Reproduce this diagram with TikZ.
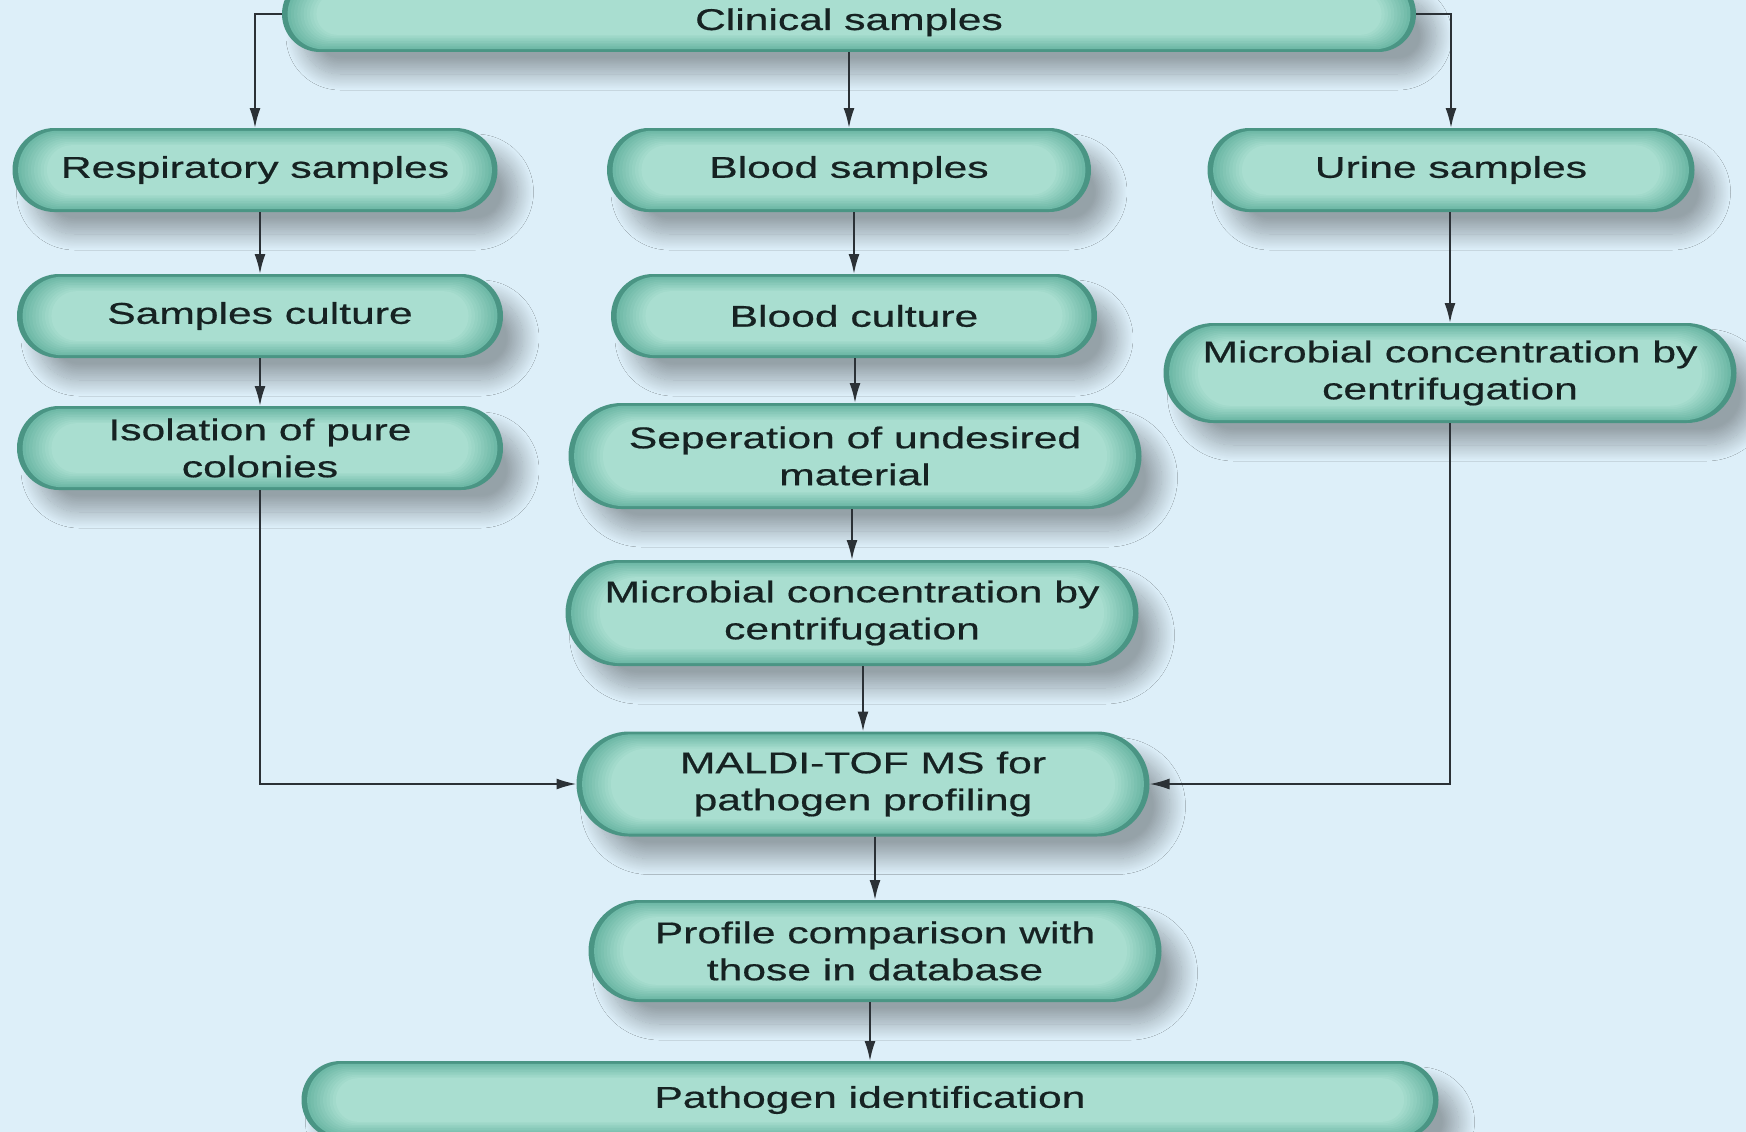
\documentclass[tikz,border=0pt]{standalone}
\usepackage{fontspec}
\newfontfamily\widefont[FakeStretch=1.42,FakeBold=0.6]{Liberation Sans}
\usetikzlibrary{arrows.meta,shapes.misc,shadows.blur,calc,backgrounds}
\definecolor{bgc}{HTML}{DDEFF9}
\definecolor{rimd}{HTML}{4A9584}
\definecolor{rimc}{HTML}{68B5A2}
\definecolor{pin}{HTML}{A9DED0}
\definecolor{txt}{HTML}{162222}
\definecolor{lin}{HTML}{2B3136}
\tikzset{
  pill/.style={rectangle, align=center, inner sep=0pt, outer sep=0pt, text=txt,
    font=\widefont\fontsize{30}{37}\selectfont},
  pillshape/.style={rounded rectangle, inner sep=0pt, outer sep=0pt},
  conn/.style={draw=lin, line width=2pt,
    -{Latex[length=20pt,width=11pt]}}
}
\newcommand\pillbg[1]{%
\begin{scope}[on background layer]
\path let \p1=(#1.south west), \p2=(#1.north east) in
  node[pillshape, fill=rimd, minimum width={\x2-\x1}, minimum height={\y2-\y1},
    blur shadow={shadow xshift=20pt, shadow yshift=-22pt, shadow blur radius=16pt,
      shadow blur steps=24, shadow opacity=32}] at (#1.center) {};
\foreach \i in {1,...,10}{%
  \pgfmathsetmacro\ins{1.2+1.6*\i}%
  \pgfmathtruncatemacro\mix{\i*10}%
  \path let \p1=(#1.south west), \p2=(#1.north east) in
    node[pillshape, fill=pin!\mix!rimc, minimum width={\x2-\x1-2*\ins-2*\ins},
      minimum height={\y2-\y1-2*\ins}] at (#1.center) {};
}
\end{scope}}
\begin{document}
\begin{tikzpicture}[x=1pt,y=-1pt]
\useasboundingbox (0,0) rectangle (1746,1132);
\begin{scope}[on background layer]
\fill[bgc] (0,0) rectangle (1746,1132);
\end{scope}

\node[pill, minimum width=1134pt, minimum height=76pt] (clin) at (849,14) {\raisebox{-16pt}[0pt][0pt]{Clinical samples}};
\node[pill, minimum width=485pt, minimum height=84pt] (resp) at (255,170) {Respiratory samples};
\node[pill, minimum width=484pt, minimum height=84pt] (blood) at (849,170) {Blood samples};
\node[pill, minimum width=487pt, minimum height=84pt] (urine) at (1451,170) {Urine samples};
\node[pill, minimum width=486pt, minimum height=84pt] (scult) at (260,316) {Samples culture};
\node[pill, minimum width=486pt, minimum height=84pt] (bcult) at (854,316) {Blood culture};
\node[pill, minimum width=573pt, minimum height=100pt] (microR) at (1450,373) {Microbial concentration by\\centrifugation};
\node[pill, minimum width=486pt, minimum height=84pt] (isol) at (260,448) {Isolation of pure\\colonies};
\node[pill, minimum width=573pt, minimum height=106pt] (sep) at (855,456) {Seperation of undesired\\material};
\node[pill, minimum width=573pt, minimum height=106pt] (microM) at (852,613) {Microbial concentration by\\centrifugation};
\node[pill, minimum width=573pt, minimum height=105pt] (maldi) at (863,784) {MALDI-TOF MS for\\pathogen profiling};
\node[pill, minimum width=573pt, minimum height=102pt] (prof) at (875,951) {Profile comparison with\\those in database};
\node[pill, minimum width=1137pt, minimum height=78pt] (path) at (870,1100) {Pathogen identification};

\foreach \nm in {clin,resp,blood,urine,scult,bcult,microR,isol,sep,microM,maldi,prof,path}{\pillbg{\nm}}

\draw[conn] (clin.west) -| (resp.north);
\draw[conn] (clin.south -| blood.north) -- (blood.north);
\draw[conn] (clin.east) -| (urine.north);
\draw[conn] (resp.south -| scult.north) -- (scult.north);
\draw[conn] (scult.south -| isol.north) -- (isol.north);
\draw[conn] (isol.south) |- (maldi.west);
\draw[conn] (blood.south -| bcult.north) -- (bcult.north);
\draw[conn] (bcult.south -| sep.north) -- (sep.north);
\draw[conn] (sep.south -| microM.north) -- (microM.north);
\draw[conn] (microM.south -| maldi.north) -- (maldi.north);
\draw[conn] (urine.south -| microR.north) -- (microR.north);
\draw[conn] (microR.south) |- (maldi.east);
\draw[conn] (maldi.south -| prof.north) -- (prof.north);
\draw[conn] (prof.south -| path.north) -- (path.north);
\end{tikzpicture}
\end{document}
